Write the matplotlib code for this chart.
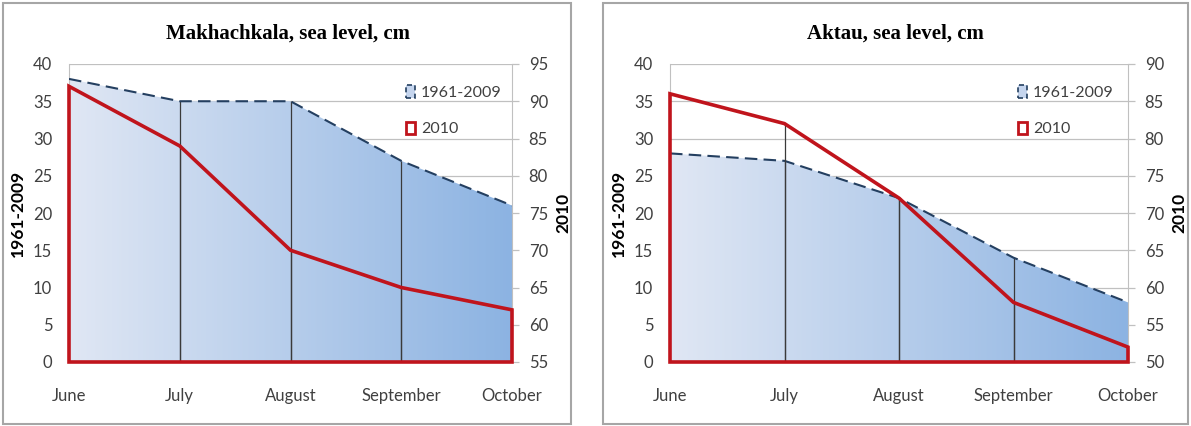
import matplotlib
matplotlib.use("Agg")
import matplotlib.pyplot as plt
import numpy as np
from matplotlib.colors import LinearSegmentedColormap
from matplotlib.patches import Patch, Rectangle

months = ["June", "July", "August", "September", "October"]

# Makhachkala
makh_hist = [38, 35, 35, 27, 21]      # 1961-2009, left axis
makh_2010 = [92, 84, 70, 65, 62]      # 2010, right axis
makh_right = (55, 95)

# Aktau
aktau_hist = [28, 27, 22, 14, 8]
aktau_2010 = [86, 82, 72, 58, 52]
aktau_right = (50, 90)

left_ticks = [0, 5, 10, 15, 20, 25, 30, 35, 40]

plt.rcParams['font.family'] = ['Lato', 'DejaVu Sans']

RED = "#c0141c"
NAVY = "#243f60"
GRID = "#c0c0c0"
TXT = "#404040"
cmap = LinearSegmentedColormap.from_list("bl", ["#e0e7f4", "#8cb3e2"])


def panel(fig, rect, title, hist, y2010, rlim, frame, title_x, lab_l, lab_r):
    ax = fig.add_axes(rect)
    x = np.arange(len(months))
    ax.set_axisbelow(True)
    ax.yaxis.grid(True, color=GRID, lw=0.9)
    poly = ax.fill_between(x, 0, hist, facecolor="none", edgecolor="none", zorder=2)
    grad = np.linspace(0, 1, 256).reshape(1, -1)
    im = ax.imshow(grad, extent=[0, 4, 0, 40], aspect="auto", cmap=cmap, zorder=2)
    im.set_clip_path(poly.get_paths()[0], transform=ax.transData)
    ax.plot(x, hist, color=NAVY, lw=1.5, ls=(0, (6, 3)), zorder=4)
    ax.vlines(x[1:4], 0, np.array(hist)[1:4], color="#3a3a3a", lw=0.9, zorder=3)
    ax.set_xlim(0, 4)
    ax.set_ylim(0, 40)
    ax.set_yticks(left_ticks)
    ax.set_xticks(x)
    ax.set_xticklabels(months)
    ax.tick_params(axis="x", length=0, pad=19, labelsize=12, colors=TXT)
    ax.tick_params(axis="y", length=0, pad=12, labelsize=12, colors=TXT)
    for s in ["top", "bottom", "right"]:
        ax.spines[s].set_visible(False)
    ax.spines["left"].set_color(GRID)
    ax.set_ylabel("1961-2009", fontsize=12.5, fontweight="bold", color="black")
    ax.yaxis.set_label_coords(lab_l, 0.5)

    ax2 = ax.twinx()
    ax2.fill_between(x, rlim[0], y2010, facecolor="none", edgecolor=RED, lw=2.6,
                     joinstyle="miter", zorder=5, clip_on=False)
    ax2.vlines(x[1:4], rlim[0], np.array(y2010)[1:4], color="#3a3a3a", lw=0.9, zorder=3)
    ax2.set_ylim(*rlim)
    ax2.set_yticks(np.arange(rlim[0], rlim[1] + 1, 5))
    ax2.tick_params(axis="y", length=5, width=0.9, color=GRID, pad=7, labelsize=12,
                    colors=TXT)
    ax2.tick_params(axis="y", color=GRID)
    for s in ["top", "bottom", "left"]:
        ax2.spines[s].set_visible(False)
    ax2.spines["right"].set_color(GRID)
    ax2.set_ylabel("2010", fontsize=12.5, fontweight="bold", color="black", rotation=90)
    ax2.yaxis.set_label_coords(lab_r, 0.5)

    handles = [Patch(facecolor="#c5d5ee", edgecolor=NAVY, ls=(0, (3, 2)), lw=1.2, label="1961-2009"),
               Patch(facecolor="white", edgecolor=RED, lw=2, label="2010")]
    ax2.legend(handles=handles, loc="upper left", bbox_to_anchor=(0.742, 0.955),
               frameon=False, borderpad=0, handlelength=0.6, handleheight=0.8,
               handletextpad=0.35, labelspacing=1.35, fontsize=11.5, labelcolor=TXT)

    fig.text(title_x, 0.922, title, ha="center", va="center", fontsize=15,
             fontweight="bold", family="Liberation Serif")
    fig.patches.append(Rectangle((frame[0], frame[1]), frame[2], frame[3],
                                 transform=fig.transFigure, facecolor="none",
                                 edgecolor="#a6a6a6", lw=1.5))
    return ax, ax2


W, H = 1191, 426
fig = plt.figure(figsize=(W / 100, H / 100), dpi=100)

panel(fig, [69 / W, 1 - 362 / H, 443 / W, 298 / H], "Makhachkala, sea level, cm",
      makh_hist, makh_2010, makh_right,
      (3 / W, 2 / H, 568 / W, 421 / H), 288 / W, -0.097, 1.098)
panel(fig, [670 / W, 1 - 362 / H, 458 / W, 298 / H], "Aktau, sea level, cm",
      aktau_hist, aktau_2010, aktau_right,
      (603 / W, 2 / H, 585 / W, 421 / H), 895 / W, -0.095, 1.094)

fig.savefig("out.png", dpi=100)
